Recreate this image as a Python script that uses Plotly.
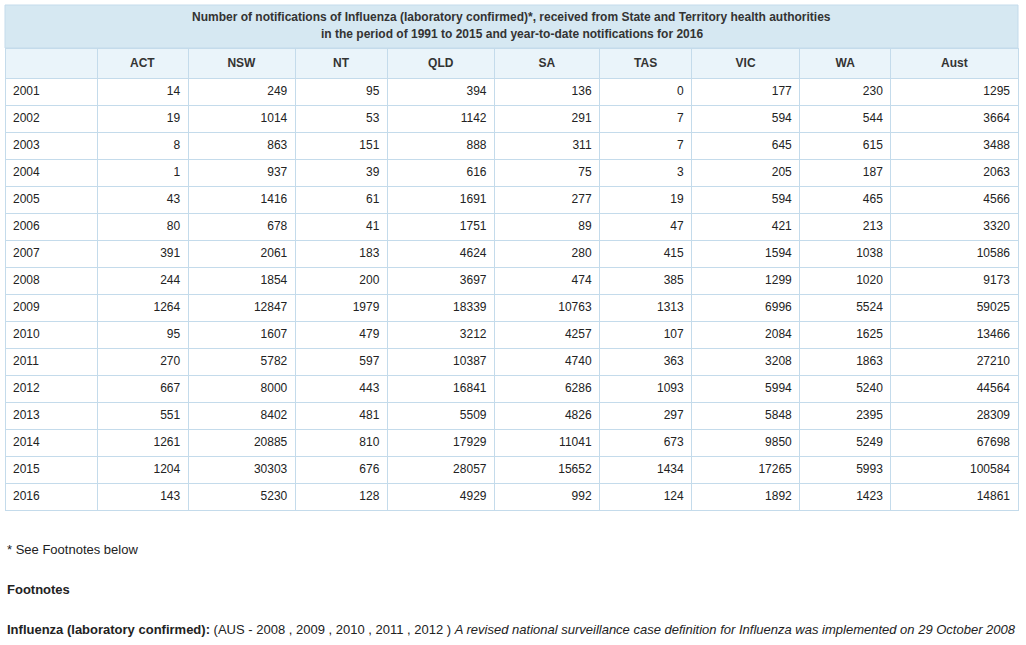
import plotly.graph_objects as go

# Influenza (laboratory confirmed) notifications by jurisdiction
years = [2001, 2002, 2003, 2004, 2005, 2006, 2007, 2008,
         2009, 2010, 2011, 2012, 2013, 2014, 2015, 2016]
act = [14, 19, 8, 1, 43, 80, 391, 244, 1264, 95, 270, 667, 551, 1261, 1204, 143]
nsw = [249, 1014, 863, 937, 1416, 678, 2061, 1854, 12847, 1607, 5782, 8000, 8402, 20885, 30303, 5230]
nt = [95, 53, 151, 39, 61, 41, 183, 200, 1979, 479, 597, 443, 481, 810, 676, 128]
qld = [394, 1142, 888, 616, 1691, 1751, 4624, 3697, 18339, 3212, 10387, 16841, 5509, 17929, 28057, 4929]
sa = [136, 291, 311, 75, 277, 89, 280, 474, 10763, 4257, 4740, 6286, 4826, 11041, 15652, 992]
tas = [0, 7, 7, 3, 19, 47, 415, 385, 1313, 107, 363, 1093, 297, 673, 1434, 124]
vic = [177, 594, 645, 205, 594, 421, 1594, 1299, 6996, 2084, 3208, 5994, 5848, 9850, 17265, 1892]
wa = [230, 544, 615, 187, 465, 213, 1038, 1020, 5524, 1625, 1863, 5240, 2395, 5249, 5993, 1423]
aust = [1295, 3664, 3488, 2063, 4566, 3320, 10586, 9173, 59025, 13466, 27210, 44564, 28309, 67698, 100584, 14861]

col_labels = ["", "ACT", "NSW", "NT", "QLD", "SA", "TAS", "VIC", "WA", "Aust"]
title_lines = ["Number of notifications of Influenza (laboratory confirmed)*, received from State and Territory health authorities",
               "in the period of 1991 to 2015 and year-to-date notifications for 2016"]

W, H = 1026, 645
left, right = 5, 1018
line_col = "#c4dbeb"
title_bg = "#d6e8f2"
fam = "Liberation Sans, Arial, sans-serif"
font = dict(family=fam, size=12, color="#222222")
bold = dict(family=fam, size=12, color="#333333")

col_widths = [92, 91, 107, 92, 107, 105, 92, 108, 91, 127]

fig = go.Figure()

# main table
cols = [[str(y) for y in years], act, nsw, nt, qld, sa, tas, vic, wa, aust]
fig.add_trace(go.Table(
    domain=dict(x=[left / W, right / W], y=[1 - 512 / H, 1 - 48 / H]),
    columnwidth=col_widths,
    header=dict(values=["<b>" + c + "</b>" for c in col_labels], height=27,
                align="center", fill_color="#eaf4fa",
                line=dict(color=line_col, width=1), font=bold),
    cells=dict(values=cols, height=27, align=["left"] + ["right"] * 9,
               fill_color="white", line=dict(color=line_col, width=1), font=font),
))

# title band above the table
fig.add_shape(type="rect", xref="paper", yref="paper",
              x0=left / W, x1=right / W, y0=1 - 48 / H, y1=1 - 5 / H,
              fillcolor=title_bg, line=dict(color=line_col, width=1), layer="below")
for i, t in enumerate(title_lines):
    fig.add_annotation(x=(left + right) / 2 / W, y=1 - (17 + 17 * i) / H,
                       xref="paper", yref="paper", xanchor="center", yanchor="middle",
                       showarrow=False, text="<b>" + t + "</b>", font=bold)

notes = [
    (549, "* See Footnotes below"),
    (589, "<b>Footnotes</b>"),
    (629, "<b>Influenza (laboratory confirmed):</b> (AUS - 2008 , 2009 , 2010 , 2011 , 2012 ) "
          "<i>A revised national surveillance case definition for Influenza was implemented on 29 October 2008</i>"),
]
for ypix, txt in notes:
    fig.add_annotation(x=left / W, y=1 - ypix / H, xref="paper", yref="paper",
                       xanchor="left", yanchor="middle", showarrow=False,
                       text=txt, font=dict(family=fam, size=13, color="#222222"))

fig.update_layout(width=W, height=H, margin=dict(l=0, r=0, t=0, b=0),
                  paper_bgcolor="white", plot_bgcolor="white")
fig.write_html("out.html", config={"displayModeBar": False},
               post_script="document.body.style.margin='0';")
